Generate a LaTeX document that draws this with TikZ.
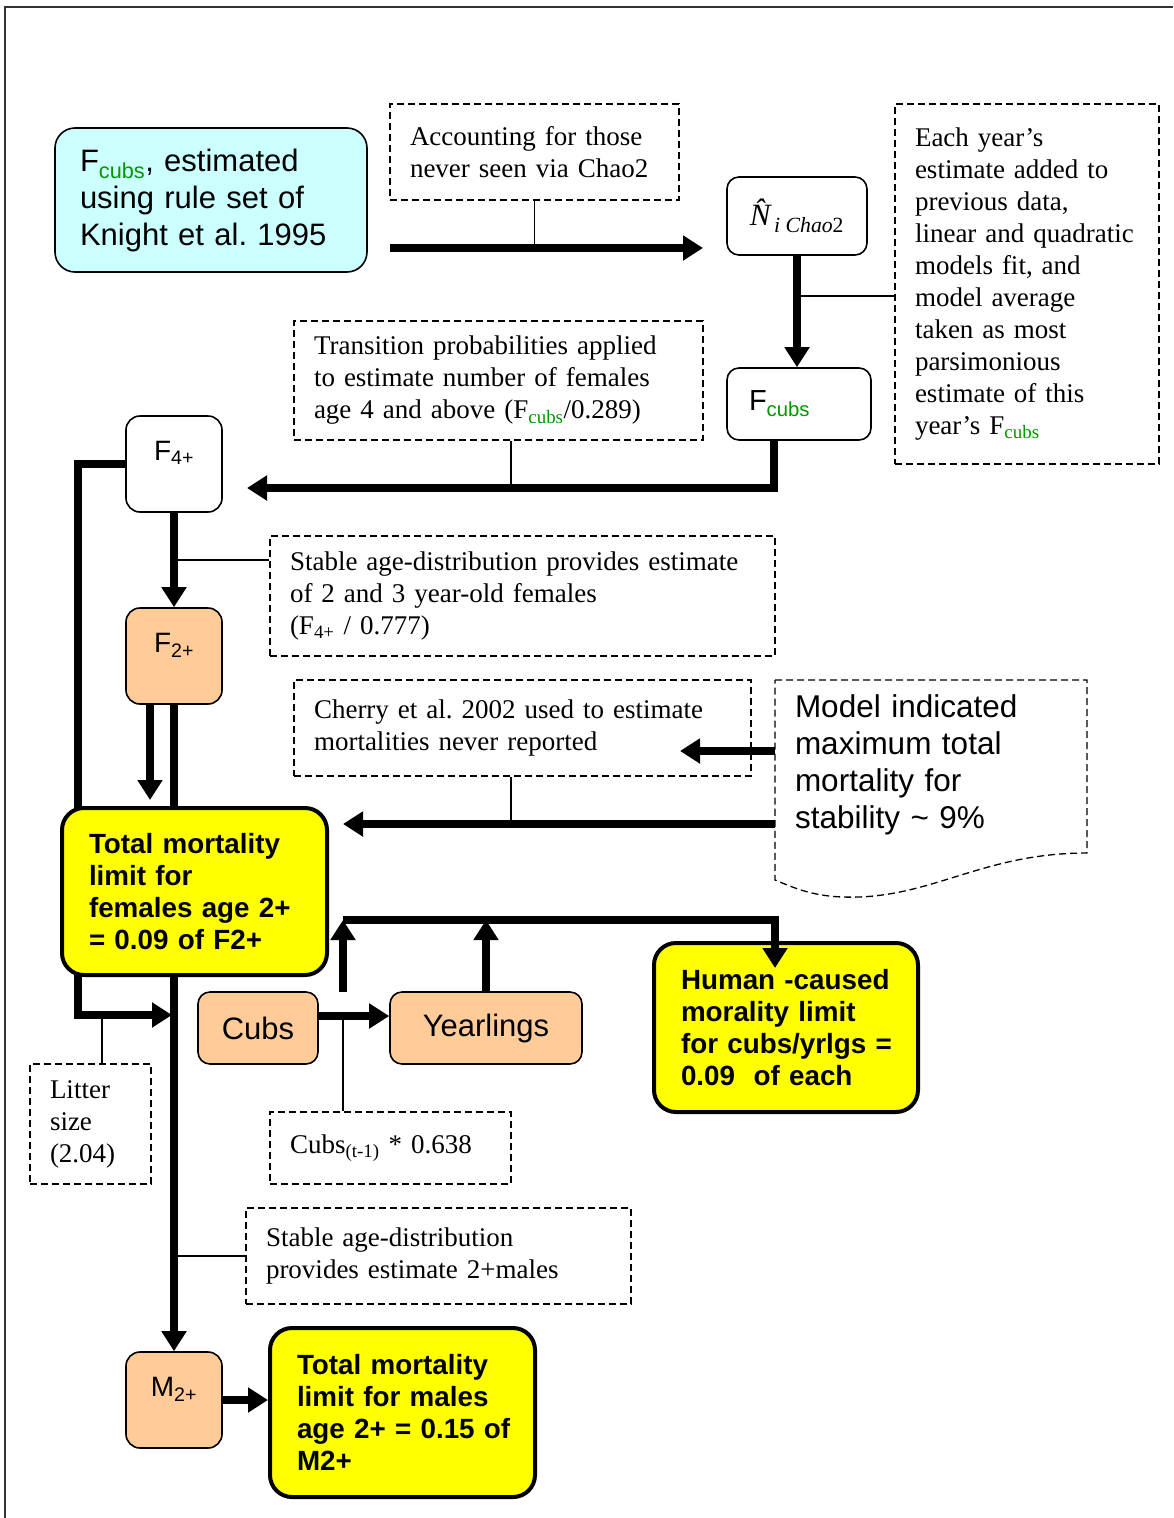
\documentclass[tikz,border=0pt]{standalone}
\usepackage{fontspec}
\setmainfont{Liberation Serif}
\setsansfont{Liberation Sans}
\usepackage{tikz}
\usetikzlibrary{arrows.meta,positioning,backgrounds,calc}

\definecolor{cubsgreen}{RGB}{0,150,0}
\definecolor{estcyan}{RGB}{204,255,255}
\definecolor{agepeach}{RGB}{255,204,153}
\definecolor{limyellow}{RGB}{255,255,0}
\newcommand{\cubsub}{\textsubscript{\textcolor{cubsgreen}{cubs}}}
\frenchspacing

\begin{document}
\begin{tikzpicture}[
    x=1pt, y=1pt,
    dashline/.style={dash pattern=on 7pt off 4pt, line width=1.3pt},
    note/.style={draw, dashline, align=left, inner xsep=20pt, inner ysep=0pt,
                 font=\rmfamily\fontsize{27}{32}\selectfont},
    stagebox/.style={draw, line width=1.6pt, rounded corners=12pt, fill=white,
                     font=\sffamily\fontsize{31}{36}\selectfont},
    agebox/.style={draw, line width=1.6pt, rounded corners=14pt, minimum width=96pt,
                   inner sep=4pt, text height=40pt, text depth=48pt,
                   font=\sffamily\fontsize{28}{32}\selectfont},
    limit/.style={draw, line width=4pt, fill=limyellow, rounded corners=22pt,
                  align=left, inner xsep=27pt, inner ysep=0pt,
                  font=\sffamily\bfseries\fontsize{27.8}{32}\selectfont},
    arr/.style={line width=7.5pt, -{Triangle[length=20pt,width=24pt]}},
    link/.style={line width=1.2pt}
  ]
    \useasboundingbox (0,0) rectangle (1173,-1518);
    \draw[line width=1.5pt, black!80] (5,-1518) -- (5,-7) -- (1173,-7);

    %--- Top row ---
    \node[stagebox, fill=estcyan, rounded corners=20pt, align=left,
          inner xsep=25pt, text width=262pt, minimum height=144pt,
          font=\sffamily\fontsize{31}{37}\selectfont] (fcubsest) at (211,-200)
      {F\cubsub, estimated\\ using rule set of\\ Knight et al. 1995};
    \node[note, text width=249pt, minimum height=96pt] (notechao) at (534.5,-152)
      {Accounting for those\\ never seen via Chao2};
    \node[stagebox, minimum width=140pt, minimum height=78pt,
          font=\rmfamily\itshape\fontsize{31}{34}\selectfont] (nhat) at (797,-216)
      {N\char"0302\textsubscript{\,i Chao\upshape 2}};
    \node[note, text width=224pt, minimum height=360pt] (noteyear) at (1027,-284)
      {Each year's\\ estimate added to\\ previous data,\\ linear and quadratic\\
       models fit, and\\ model average\\ taken as most\\ parsimonious\\
       estimate of this\\ year's F\cubsub};
    \node[stagebox, align=left, inner xsep=22pt, text width=100pt,
          minimum height=72pt, font=\sffamily\fontsize{29}{32}\selectfont]
      (fcubs) at (799,-404) {F\cubsub};
    \node[note, text width=369pt, minimum height=119pt] (notetrans) at (498.5,-380.5)
      {Transition probabilities applied\\ to estimate number of females\\
       age 4 and above (F\cubsub/0.289)};

    %--- Female column ---
    \node[agebox, fill=white]    (f4) at (174,-464) {F\textsubscript{4+}};
    \node[note, text width=465pt, minimum height=120pt] (notestable) at (522.5,-596)
      {Stable age-distribution provides estimate\\ of 2 and 3 year-old females\\
       (F\textsubscript{4+} / 0.777)};
    \node[agebox, fill=agepeach] (f2) at (174,-656) {F\textsubscript{2+}};
    \node[note, text width=417pt, minimum height=96pt] (notecherry) at (522.5,-728)
      {Cherry et al. 2002 used to estimate\\ mortalities never reported};
    \node[align=left, inner xsep=20pt, text width=272pt,
          font=\sffamily\fontsize{31.5}{37}\selectfont] (model) at (931,-765)
      {Model indicated\\ maximum total\\ mortality for\\ stability \textasciitilde{} 9\%};
    \draw[dashline] (775,-680) -- (1087,-680) -- (1087,-853)
      .. controls (980,-853) and (930,-900) .. (843,-897)
      .. controls (810,-896) and (790,-886) .. (775,-880) -- cycle;
    \node[limit, text width=211pt, minimum height=167pt] (femlim) at (194.5,-891.5)
      {Total~mortality\\ limit~for\\ females~age~2+\\ =~0.09~of~F2+};

    %--- Cubs and yearlings ---
    \node[stagebox, fill=agepeach, minimum width=120pt, minimum height=72pt]
      (cubs) at (258,-1028) {Cubs};
    \node[stagebox, fill=agepeach, minimum width=192pt, minimum height=72pt]
      (yrl) at (486,-1028) {Yearlings};
    \node[limit, text width=210pt, minimum height=169pt] (humlim) at (786,-1027.5)
      {Human~-caused\\ morality~limit\\ for~cubs/yrlgs~=\\ 0.09~~of~each};
    \node[note, text width=201pt, minimum height=72pt] (notecubs) at (390.5,-1148)
      {Cubs\textsubscript{(t-1)} * 0.638};
    \node[note, text width=81pt, minimum height=120pt] (notelitter) at (90.5,-1124)
      {Litter\\ size\\ (2.04)};

    %--- Males ---
    \node[note, text width=345pt, minimum height=96pt] (notemale) at (438.5,-1256)
      {Stable age-distribution\\ provides estimate 2+males};
    \node[agebox, fill=agepeach] (m2) at (174,-1400) {M\textsubscript{2+}};
    \node[limit, text width=211pt, minimum height=169pt] (malelim) at (402.5,-1412.5)
      {Total~mortality\\ limit~for~males\\ age~2+~=~0.15~of\\ M2+};

    %--- Connector points ---
    \coordinate (chaoin)     at (390,-248);
    \coordinate (chaoout)    at (703,-248);
    \coordinate (yearlink)   at (798,-296);
    \coordinate (f4tip)      at (247,-488);
    \coordinate (translink)  at (511,-488);
    \coordinate (stablelink) at (174,-560);
    \coordinate (f2tip)      at (150,-800);
    \coordinate (cherrytip)  at (680,-751);
    \coordinate (femtip)     at (343,-824);
    \coordinate (cherrylink) at (511,-824);
    \coordinate (humrow)     at (343,-920);
    \coordinate (humtip)     at (775,-968);
    \coordinate (cubsup)     at (343,-992);
    \coordinate (litcorner)  at (78,-1015);
    \coordinate (littip)     at (172,-1015);
    \coordinate (litlink)    at (102,-1015);
    \coordinate (cubslink)   at (343,-1016);

    %--- Lines hidden behind the female limit box ---
    \begin{scope}[on background layer]
      \draw[arr] (f4.west) -| (litcorner) -- (littip);
      \draw[arr] (f2.south) -- (m2.north);
    \end{scope}

    %--- Arrows ---
    \draw[arr] (chaoin) -- (chaoout);
    \draw[link] (notechao.south) -- (notechao.south |- chaoin);
    \draw[arr] (nhat.south) -- (nhat.south |- fcubs.north);
    \draw[link] (yearlink) -- (yearlink -| noteyear.west);
    \draw[arr] ($(fcubs.south)+(-25,0)$) |- (f4tip);
    \draw[link] (translink) -- (translink |- notetrans.south);
    \draw[arr] (f4.south) -- (f2.north);
    \draw[link] (stablelink) -- (stablelink -| notestable.west);
    \draw[arr] (f2tip |- f2.south) -- (f2tip);
    \draw[arr] (cherrytip -| model.west) -- (cherrytip);
    \draw[arr] (femtip -| model.west) -- (femtip);
    \draw[link] (cherrylink) -- (cherrylink |- notecherry.south);
    \draw[link] (litlink) -- (litlink |- notelitter.north);
    \draw[arr] (cubs.east |- cubslink) -- (yrl.west |- cubslink);
    \draw[link] (cubslink) -- (cubslink |- notecubs.north);
    \draw[arr] (humrow) -| (humtip);
    \draw[arr] (cubsup) -- (humrow);
    \draw[arr] (yrl.north) -- (yrl.north |- humrow);
    \draw[link] (notemale.west) -- (notemale.west -| m2);
    \draw[arr] (m2.east) -- (m2.east -| malelim.west);
  \end{tikzpicture}
\end{document}
